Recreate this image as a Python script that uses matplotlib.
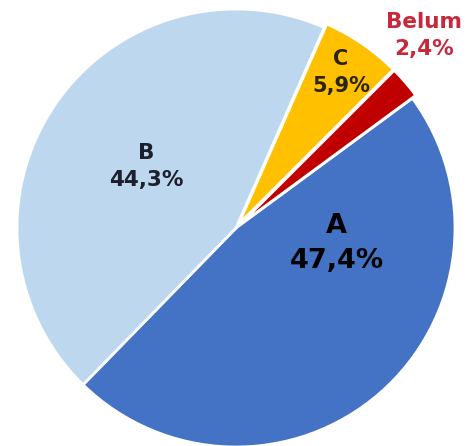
import matplotlib.pyplot as plt

labels = ['A', 'Belum', 'C', 'B']
values = [47.4, 2.4, 5.9, 44.3]
pct_text = ['47,4%', '2,4%', '5,9%', '44,3%']
colors = ['#4472C4', '#C00000', '#FFC000', '#BDD7EE']

# label placement (data units, pie radius = 1) and text styling
label_pos = [(0.46, -0.07), (0.86, 0.88), (0.48, 0.71), (-0.41, 0.28)]
label_size = [19.5, 15.5, 15, 15.5]
label_color = ['#000000', '#C8283C', '#2a2410', '#1c1f2c']

fig = plt.figure(figsize=(4.74, 4.46), dpi=100)
ax = fig.add_axes([0, 0, 1, 1])

ax.pie(values, colors=colors, startangle=-134.3, counterclock=True,
       explode=[0, 0.02, 0.02, 0],
       wedgeprops=dict(edgecolor='white', linewidth=2))

for lab, pct, pos, fs, col in zip(labels, pct_text, label_pos, label_size, label_color):
    ax.text(pos[0], pos[1], lab + '\n' + pct, ha='center', va='center',
            fontsize=fs, fontweight='bold', color=col, linespacing=1.45,
            family='DejaVu Sans')

ax.set_aspect('auto')
ax.set_xlim(-236 / 219, (474 - 236) / 219)
ax.set_ylim(-218 / 219, 228 / 219)
ax.axis('off')

fig.savefig('out.png', dpi=100)
